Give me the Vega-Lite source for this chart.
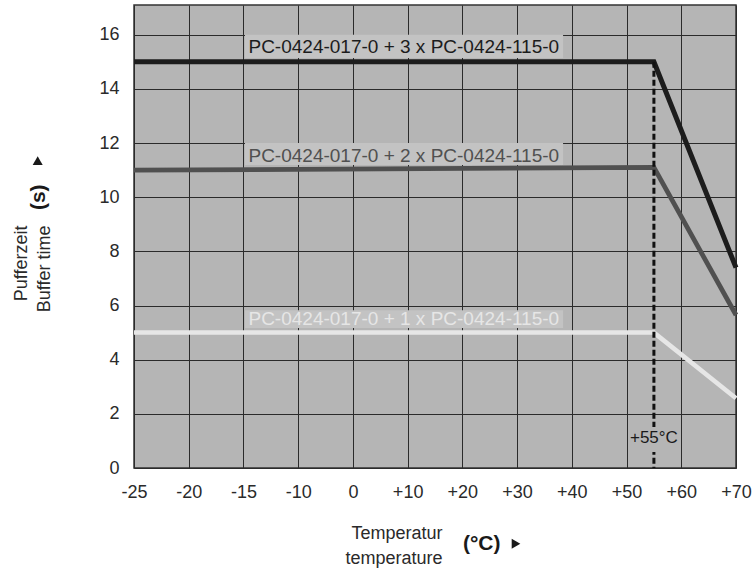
{
  "$schema": "https://vega.github.io/schema/vega-lite/v6.json",
  "width": 602,
  "height": 463,
  "autosize": {"type": "none"},
  "padding": {"left": 134, "top": 5, "right": 16, "bottom": 111},
  "background": "white",
  "config": {
    "font": "Liberation Sans",
    "view": {"fill": "#b5b5b5", "stroke": "#333333", "strokeWidth": 1.5},
    "axis": {
      "gridColor": "#2b2b2b", "gridOpacity": 1, "gridWidth": 1,
      "domain": false, "ticks": false,
      "labelFont": "Liberation Sans", "labelFontSize": 18, "labelColor": "#2a2a2a",
      "titleFont": "Liberation Sans", "titleFontSize": 18, "titleFontWeight": "normal", "titleColor": "#2a2a2a"
    }
  },
  "datasets": {
    "curves": [
      {"series": "3x", "temp": -25, "time": 15},
      {"series": "3x", "temp": 55, "time": 15},
      {"series": "3x", "temp": 70, "time": 7.4},
      {"series": "2x", "temp": -25, "time": 11},
      {"series": "2x", "temp": 55, "time": 11.1},
      {"series": "2x", "temp": 70, "time": 5.65},
      {"series": "1x", "temp": -25, "time": 5},
      {"series": "1x", "temp": 55, "time": 5},
      {"series": "1x", "temp": 70, "time": 2.58}
    ],
    "labels": [
      {"series": "3x", "label": "PC-0424-017-0 + 3 x PC-0424-115-0", "lx": 9.3, "ly": 15.33, "bx1": -14.86, "bx2": 38.4, "by1": 15.14, "by2": 16.0},
      {"series": "2x", "label": "PC-0424-017-0 + 2 x PC-0424-115-0", "lx": 9.3, "ly": 11.3, "bx1": -14.86, "bx2": 38.4, "by1": 11.19, "by2": 12.0},
      {"series": "1x", "label": "PC-0424-017-0 + 1 x PC-0424-115-0", "lx": 9.3, "ly": 5.28, "bx1": -14.86, "bx2": 38.4, "by1": 5.17, "by2": 5.83}
    ],
    "limit": [
      {"temp": 55, "time": 15, "label": "+55°C", "ly": 0.92, "bx1": 51, "bx2": 59, "by1": 0.59, "by2": 1.51}
    ]
  },
  "layer": [
    {
      "data": {"name": "labels"},
      "mark": {"type": "rect", "fill": "#c3c3c3"},
      "encoding": {
        "x": {"field": "bx1", "type": "quantitative", "scale": {"domain": [-25, -10, 70], "range": [0, 164.18, 602], "nice": false, "zero": false},
          "axis": {
            "values": [-25, -20, -15, -10, 0, 10, 20, 30, 40, 50, 60, 70],
            "labelExpr": "datum.value > 0 ? '+' + datum.value : '' + datum.value",
            "labelPadding": 15, "labelFlush": false, "labelOverlap": false, "grid": true,
            "title": ["Temperatur", "temperature"],
            "titleAlign": "right", "titleBaseline": "alphabetic", "titleX": 308, "titleY": 70, "titleLineHeight": 25
          }
        },
        "x2": {"field": "bx2"},
        "y": {"field": "by1", "type": "quantitative", "scale": {"domain": [0, 17.1], "nice": false, "zero": false},
          "axis": {
            "values": [0, 2, 4, 6, 8, 10, 12, 14, 16],
            "labelPadding": 15, "grid": true,
            "title": ["Pufferzeit", "Buffer time"],
            "titleAngle": -90, "titleAlign": "right", "titleBaseline": "alphabetic",
            "titleX": -108, "titleY": 220, "titleLineHeight": 23
          }
        },
        "y2": {"field": "by2"}
      }
    },
    {
      "data": {"name": "curves"},
      "mark": {"type": "line", "strokeCap": "butt", "strokeJoin": "miter"},
      "encoding": {
        "x": {"field": "temp", "type": "quantitative", "title": ["Temperatur", "temperature"]},
        "y": {"field": "time", "type": "quantitative", "title": ["Pufferzeit", "Buffer time"]},
        "color": {"field": "series", "type": "nominal", "scale": {"domain": ["3x", "2x", "1x"], "range": ["#1c1c1c", "#505050", "#e6e6e6"]}, "legend": null},
        "strokeWidth": {"field": "series", "type": "nominal", "scale": {"domain": ["3x", "2x", "1x"], "range": [5, 4.5, 5]}, "legend": null},
        "detail": {"field": "series"}
      }
    },
    {
      "data": {"name": "limit"},
      "mark": {"type": "rule", "color": "#111111", "strokeWidth": 3, "strokeDash": [6, 3]},
      "encoding": {
        "x": {"field": "temp", "type": "quantitative"},
        "y": {"field": "time", "type": "quantitative"},
        "y2": {"datum": 0}
      }
    },
    {
      "data": {"name": "limit"},
      "mark": {"type": "rect", "fill": "#b5b5b5"},
      "encoding": {
        "x": {"field": "bx1", "type": "quantitative"},
        "x2": {"field": "bx2"},
        "y": {"field": "by1", "type": "quantitative"},
        "y2": {"field": "by2"}
      }
    },
    {
      "data": {"name": "labels"},
      "mark": {"type": "text", "fontSize": 19, "align": "center", "baseline": "alphabetic"},
      "encoding": {
        "x": {"field": "lx", "type": "quantitative"},
        "y": {"field": "ly", "type": "quantitative"},
        "text": {"field": "label"},
        "color": {"field": "series", "type": "nominal", "legend": null}
      }
    },
    {
      "data": {"name": "limit"},
      "mark": {"type": "text", "fontSize": 17, "align": "center", "baseline": "alphabetic", "color": "#1a1a1a"},
      "encoding": {
        "x": {"field": "temp", "type": "quantitative"},
        "y": {"field": "ly", "type": "quantitative"},
        "text": {"field": "label"}
      }
    },
    {
      "data": {"values": [{}]},
      "mark": {"type": "text", "text": "(°C)", "fontSize": 21, "fontWeight": "bold", "align": "left", "baseline": "middle", "color": "#1a1a1a"},
      "encoding": {
        "x": {"datum": 20.1},
        "y": {"datum": -2.8}
      }
    },
    {
      "data": {"values": [{}]},
      "mark": {"type": "text", "text": "(s)", "fontSize": 21, "fontWeight": "bold", "align": "center", "baseline": "middle", "angle": 270, "color": "#1a1a1a"},
      "encoding": {
        "x": {"datum": -33.7},
        "y": {"datum": 10.0}
      }
    },
    {
      "data": {"values": [{}]},
      "mark": {"type": "point", "shape": "triangle-right", "filled": true, "size": 100, "color": "#1a1a1a", "opacity": 1},
      "encoding": {
        "x": {"datum": 29.8},
        "y": {"datum": -2.8}
      }
    },
    {
      "data": {"values": [{}]},
      "mark": {"type": "point", "shape": "triangle-up", "filled": true, "size": 100, "color": "#1a1a1a", "opacity": 1},
      "encoding": {
        "x": {"datum": -33.8},
        "y": {"datum": 11.35}
      }
    }
  ]
}
